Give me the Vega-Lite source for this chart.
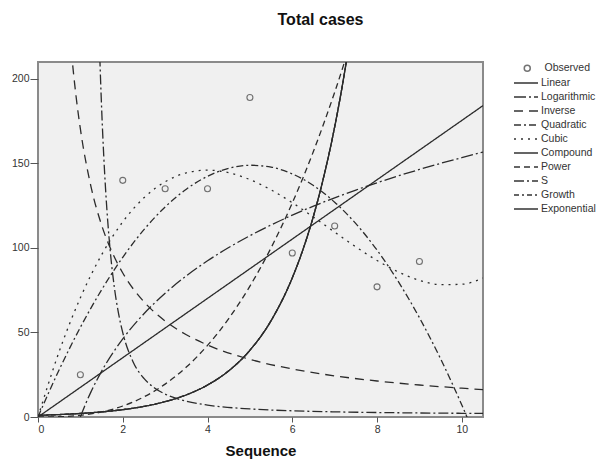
{
  "$schema": "https://vega.github.io/schema/vega-lite/v6.json",
  "autosize": {"type": "none"},
  "padding": {"left": 38, "top": 62, "right": 120, "bottom": 46},
  "width": 445,
  "height": 355,
  "background": "#ffffff",
  "config": {
    "font": "Liberation Sans",
    "view": {"fill": "#f0f0f0", "stroke": "#8a8a8a", "strokeWidth": 2},
    "axis": {"domain": false, "grid": false, "tickColor": "#555555", "labelColor": "#333333", "labelFontSize": 10.5, "titleColor": "#111111"},
    "legend": {"labelColor": "#333333", "labelFontSize": 10.5, "padding": 0}
  },
  "title": {"text": "Total cases", "fontSize": 16, "fontWeight": "bold", "color": "#111111", "anchor": "middle", "dx": 60, "offset": 34},
  "datasets": {
    "curves": [
      {"s": "Linear", "x": 0, "y": 0}, {"s": "Linear", "x": 10.5, "y": 184.2},
      {"s": "Logarithmic", "x": 1, "y": 0}, {"s": "Logarithmic", "x": 1.1, "y": 6.35}, {"s": "Logarithmic", "x": 1.25, "y": 14.87}, {"s": "Logarithmic", "x": 1.5, "y": 27.0}, {"s": "Logarithmic", "x": 2, "y": 46.19}, {"s": "Logarithmic", "x": 2.5, "y": 61.06}, {"s": "Logarithmic", "x": 3, "y": 73.21}, {"s": "Logarithmic", "x": 3.5, "y": 83.48}, {"s": "Logarithmic", "x": 4, "y": 92.38}, {"s": "Logarithmic", "x": 4.5, "y": 100.23}, {"s": "Logarithmic", "x": 5, "y": 107.25}, {"s": "Logarithmic", "x": 5.5, "y": 113.6}, {"s": "Logarithmic", "x": 6, "y": 119.4}, {"s": "Logarithmic", "x": 6.5, "y": 124.73}, {"s": "Logarithmic", "x": 7, "y": 129.67}, {"s": "Logarithmic", "x": 7.5, "y": 134.27}, {"s": "Logarithmic", "x": 8, "y": 138.57}, {"s": "Logarithmic", "x": 8.5, "y": 142.62}, {"s": "Logarithmic", "x": 9, "y": 146.42}, {"s": "Logarithmic", "x": 9.5, "y": 150.03}, {"s": "Logarithmic", "x": 10, "y": 153.44}, {"s": "Logarithmic", "x": 10.5, "y": 156.7},
      {"s": "Inverse", "x": 0.7, "y": 243.4}, {"s": "Inverse", "x": 0.8, "y": 213.0}, {"s": "Inverse", "x": 0.9, "y": 189.3}, {"s": "Inverse", "x": 1, "y": 170.4}, {"s": "Inverse", "x": 1.25, "y": 136.3}, {"s": "Inverse", "x": 1.5, "y": 113.6}, {"s": "Inverse", "x": 1.75, "y": 97.4}, {"s": "Inverse", "x": 2, "y": 85.2}, {"s": "Inverse", "x": 2.5, "y": 68.16}, {"s": "Inverse", "x": 3, "y": 56.8}, {"s": "Inverse", "x": 3.5, "y": 48.69}, {"s": "Inverse", "x": 4, "y": 42.6}, {"s": "Inverse", "x": 5, "y": 34.08}, {"s": "Inverse", "x": 6, "y": 28.4}, {"s": "Inverse", "x": 7, "y": 24.34}, {"s": "Inverse", "x": 8, "y": 21.3}, {"s": "Inverse", "x": 9, "y": 18.93}, {"s": "Inverse", "x": 10, "y": 17.04}, {"s": "Inverse", "x": 10.5, "y": 16.23},
      {"s": "Quadratic", "x": 0, "y": 0}, {"s": "Quadratic", "x": 0.5, "y": 27.98}, {"s": "Quadratic", "x": 1, "y": 53.05}, {"s": "Quadratic", "x": 1.5, "y": 75.21}, {"s": "Quadratic", "x": 2, "y": 94.46}, {"s": "Quadratic", "x": 2.5, "y": 110.81}, {"s": "Quadratic", "x": 3, "y": 124.24}, {"s": "Quadratic", "x": 3.5, "y": 134.78}, {"s": "Quadratic", "x": 4, "y": 142.4}, {"s": "Quadratic", "x": 4.5, "y": 147.12}, {"s": "Quadratic", "x": 5, "y": 148.92}, {"s": "Quadratic", "x": 5.5, "y": 147.83}, {"s": "Quadratic", "x": 6, "y": 143.82}, {"s": "Quadratic", "x": 6.5, "y": 136.91}, {"s": "Quadratic", "x": 7, "y": 127.08}, {"s": "Quadratic", "x": 7.5, "y": 114.36}, {"s": "Quadratic", "x": 8, "y": 98.72}, {"s": "Quadratic", "x": 8.5, "y": 80.18}, {"s": "Quadratic", "x": 9, "y": 58.72}, {"s": "Quadratic", "x": 9.5, "y": 34.37}, {"s": "Quadratic", "x": 10, "y": 7.1}, {"s": "Quadratic", "x": 10.5, "y": -23.07},
      {"s": "Cubic", "x": 0, "y": 0}, {"s": "Cubic", "x": 0.5, "y": 38.73}, {"s": "Cubic", "x": 1, "y": 70.51}, {"s": "Cubic", "x": 1.5, "y": 95.9}, {"s": "Cubic", "x": 2, "y": 115.44}, {"s": "Cubic", "x": 2.5, "y": 129.67}, {"s": "Cubic", "x": 3, "y": 139.16}, {"s": "Cubic", "x": 3.5, "y": 144.43}, {"s": "Cubic", "x": 4, "y": 146.04}, {"s": "Cubic", "x": 4.5, "y": 144.53}, {"s": "Cubic", "x": 5, "y": 140.45}, {"s": "Cubic", "x": 5.5, "y": 134.35}, {"s": "Cubic", "x": 6, "y": 126.77}, {"s": "Cubic", "x": 6.5, "y": 118.25}, {"s": "Cubic", "x": 7, "y": 109.36}, {"s": "Cubic", "x": 7.5, "y": 100.63}, {"s": "Cubic", "x": 8, "y": 92.61}, {"s": "Cubic", "x": 8.5, "y": 85.83}, {"s": "Cubic", "x": 9, "y": 80.87}, {"s": "Cubic", "x": 9.5, "y": 78.26}, {"s": "Cubic", "x": 10, "y": 78.52}, {"s": "Cubic", "x": 10.5, "y": 82.22},
      {"s": "Compound", "x": 0, "y": 1}, {"s": "Compound", "x": 0.5, "y": 1.44}, {"s": "Compound", "x": 1, "y": 2.09}, {"s": "Compound", "x": 1.5, "y": 3.01}, {"s": "Compound", "x": 2, "y": 4.35}, {"s": "Compound", "x": 2.5, "y": 6.28}, {"s": "Compound", "x": 3, "y": 9.07}, {"s": "Compound", "x": 3.5, "y": 13.1}, {"s": "Compound", "x": 4, "y": 18.92}, {"s": "Compound", "x": 4.5, "y": 27.32}, {"s": "Compound", "x": 5, "y": 39.46}, {"s": "Compound", "x": 5.5, "y": 56.99}, {"s": "Compound", "x": 6, "y": 82.3}, {"s": "Compound", "x": 6.25, "y": 98.9}, {"s": "Compound", "x": 6.5, "y": 118.86}, {"s": "Compound", "x": 6.75, "y": 142.9}, {"s": "Compound", "x": 7, "y": 171.6}, {"s": "Compound", "x": 7.25, "y": 206.3}, {"s": "Compound", "x": 7.5, "y": 247.8},
      {"s": "Power", "x": 0, "y": 0}, {"s": "Power", "x": 0.5, "y": 0.15}, {"s": "Power", "x": 1, "y": 1}, {"s": "Power", "x": 1.5, "y": 2.99}, {"s": "Power", "x": 2, "y": 6.51}, {"s": "Power", "x": 2.5, "y": 11.89}, {"s": "Power", "x": 3, "y": 19.46}, {"s": "Power", "x": 3.5, "y": 29.52}, {"s": "Power", "x": 4, "y": 42.34}, {"s": "Power", "x": 4.5, "y": 58.2}, {"s": "Power", "x": 5, "y": 77.4}, {"s": "Power", "x": 5.5, "y": 100.1}, {"s": "Power", "x": 6, "y": 126.6}, {"s": "Power", "x": 6.5, "y": 157.2}, {"s": "Power", "x": 7, "y": 192.1}, {"s": "Power", "x": 7.5, "y": 231.4},
      {"s": "S", "x": 1.4, "y": 266.5}, {"s": "S", "x": 1.45, "y": 219.7}, {"s": "S", "x": 1.5, "y": 183.5}, {"s": "S", "x": 1.55, "y": 155.1}, {"s": "S", "x": 1.6, "y": 132.5}, {"s": "S", "x": 1.7, "y": 99.4}, {"s": "S", "x": 1.8, "y": 77.0}, {"s": "S", "x": 1.9, "y": 61.3}, {"s": "S", "x": 2, "y": 49.88}, {"s": "S", "x": 2.25, "y": 32.3}, {"s": "S", "x": 2.5, "y": 22.82}, {"s": "S", "x": 2.75, "y": 17.17}, {"s": "S", "x": 3, "y": 13.55}, {"s": "S", "x": 3.5, "y": 9.34}, {"s": "S", "x": 4, "y": 7.06}, {"s": "S", "x": 5, "y": 4.78}, {"s": "S", "x": 6, "y": 3.68}, {"s": "S", "x": 7, "y": 3.06}, {"s": "S", "x": 8, "y": 2.66}, {"s": "S", "x": 9, "y": 2.38}, {"s": "S", "x": 10, "y": 2.19}, {"s": "S", "x": 10.5, "y": 2.11},
      {"s": "Growth", "x": 0, "y": 1}, {"s": "Growth", "x": 0.5, "y": 1.44}, {"s": "Growth", "x": 1, "y": 2.09}, {"s": "Growth", "x": 1.5, "y": 3.01}, {"s": "Growth", "x": 2, "y": 4.35}, {"s": "Growth", "x": 2.5, "y": 6.28}, {"s": "Growth", "x": 3, "y": 9.07}, {"s": "Growth", "x": 3.5, "y": 13.1}, {"s": "Growth", "x": 4, "y": 18.92}, {"s": "Growth", "x": 4.5, "y": 27.32}, {"s": "Growth", "x": 5, "y": 39.46}, {"s": "Growth", "x": 5.5, "y": 56.99}, {"s": "Growth", "x": 6, "y": 82.3}, {"s": "Growth", "x": 6.25, "y": 98.9}, {"s": "Growth", "x": 6.5, "y": 118.86}, {"s": "Growth", "x": 6.75, "y": 142.9}, {"s": "Growth", "x": 7, "y": 171.6}, {"s": "Growth", "x": 7.25, "y": 206.3}, {"s": "Growth", "x": 7.5, "y": 247.8},
      {"s": "Exponential", "x": 0, "y": 1}, {"s": "Exponential", "x": 0.5, "y": 1.44}, {"s": "Exponential", "x": 1, "y": 2.09}, {"s": "Exponential", "x": 1.5, "y": 3.01}, {"s": "Exponential", "x": 2, "y": 4.35}, {"s": "Exponential", "x": 2.5, "y": 6.28}, {"s": "Exponential", "x": 3, "y": 9.07}, {"s": "Exponential", "x": 3.5, "y": 13.1}, {"s": "Exponential", "x": 4, "y": 18.92}, {"s": "Exponential", "x": 4.5, "y": 27.32}, {"s": "Exponential", "x": 5, "y": 39.46}, {"s": "Exponential", "x": 5.5, "y": 56.99}, {"s": "Exponential", "x": 6, "y": 82.3}, {"s": "Exponential", "x": 6.25, "y": 98.9}, {"s": "Exponential", "x": 6.5, "y": 118.86}, {"s": "Exponential", "x": 6.75, "y": 142.9}, {"s": "Exponential", "x": 7, "y": 171.6}, {"s": "Exponential", "x": 7.25, "y": 206.3}, {"s": "Exponential", "x": 7.5, "y": 247.8}
    ],
    "obs": [
      {"kind": "Observed", "x": 1, "y": 25}, {"kind": "Observed", "x": 2, "y": 140}, {"kind": "Observed", "x": 3, "y": 135}, {"kind": "Observed", "x": 4, "y": 135}, {"kind": "Observed", "x": 5, "y": 189}, {"kind": "Observed", "x": 6, "y": 97}, {"kind": "Observed", "x": 7, "y": 113}, {"kind": "Observed", "x": 8, "y": 77}, {"kind": "Observed", "x": 9, "y": 92}
    ]
  },
  "layer": [
    {
      "data": {"name": "curves"},
      "mark": {"type": "line", "clip": true, "color": "#2b2b2b", "strokeWidth": 1.3, "interpolate": "monotone"},
      "encoding": {
        "x": {"field": "x", "type": "quantitative", "scale": {"domain": [0, 10.5], "nice": false, "zero": false},
              "axis": {"values": [0, 2, 4, 6, 8, 10], "tickSize": 5, "labelPadding": 2, "title": "Sequence", "titleFontSize": 15, "titleFontWeight": "bold", "titlePadding": 9}},
        "y": {"field": "y", "type": "quantitative", "scale": {"domain": [0, 210], "nice": false, "zero": false},
              "axis": {"values": [0, 50, 100, 150, 200], "tickSize": 8, "labelPadding": 1, "title": null}},
        "strokeDash": {"field": "s", "type": "nominal", "sort": null,
          "scale": {"domain": ["Linear", "Logarithmic", "Inverse", "Quadratic", "Cubic", "Compound", "Power", "S", "Growth", "Exponential"],
                    "range": [[1, 0], [12, 3, 2, 3], [9, 6], [7, 3, 2, 3], [2, 5], [1, 0], [6, 4], [10, 3, 2, 3], [5, 3, 2, 3], [1, 0]]},
          "legend": {"title": null, "orient": "none", "legendX": 481, "legendY": 14, "symbolType": "M-2,0L2,0", "symbolSize": 144, "symbolStrokeColor": "#333333", "symbolStrokeWidth": 1.3, "labelOffset": 8, "rowPadding": 1}}
      }
    },
    {
      "data": {"name": "obs"},
      "mark": {"type": "point", "filled": false, "color": "#3a3a3a", "size": 36, "strokeWidth": 1.1},
      "encoding": {
        "x": {"field": "x", "type": "quantitative"},
        "y": {"field": "y", "type": "quantitative"},
        "shape": {"field": "kind", "type": "nominal", "scale": {"domain": ["Observed"], "range": ["circle"]},
          "legend": {"title": null, "orient": "none", "legendX": 484, "legendY": 1, "symbolSize": 36, "symbolStrokeColor": "#3a3a3a", "symbolFillColor": "transparent", "labelOffset": 12}}
      }
    }
  ]
}
